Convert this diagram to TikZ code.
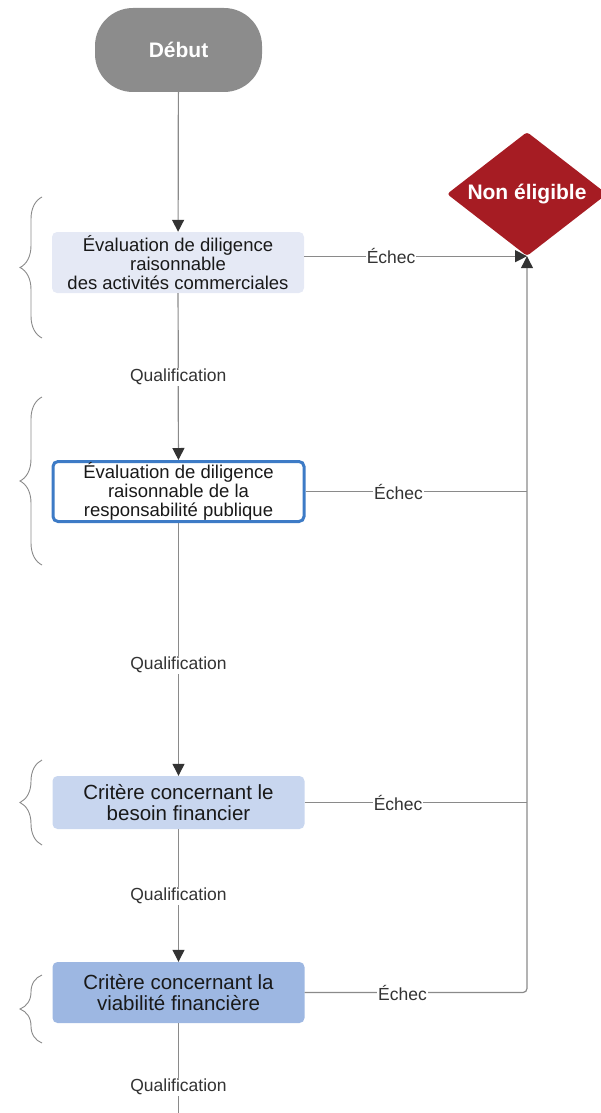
\documentclass[tikz,border=0pt]{standalone}
\usepackage{fontspec}
\setmainfont{Liberation Sans}
\usepackage{xcolor}
\usepackage{tikz}
\usetikzlibrary{shapes.geometric, arrows.meta, decorations.pathreplacing}

\definecolor{startgray}{HTML}{8C8C8C}
\definecolor{failred}{HTML}{A61C23}
\definecolor{evalfill}{HTML}{E5E9F5}
\definecolor{evalborder}{HTML}{3D7BC6}
\definecolor{needfill}{HTML}{C8D6EF}
\definecolor{viabfill}{HTML}{9DB7E2}
\definecolor{linegray}{HTML}{8A8A8A}
\definecolor{tipgray}{HTML}{333333}

\tikzset{
    startnode/.style={
        rectangle, rounded corners=38pt,
        minimum width=167pt, minimum height=84pt,
        fill=startgray, text=white,
        font=\fontsize{21}{22}\selectfont\bfseries
    },
    failnode/.style={
        diamond, aspect=1.29, rounded corners=3pt, inner sep=0pt,
        minimum width=160pt, minimum height=124pt,
        fill=failred, text=white,
        font=\fontsize{21}{22}\selectfont\bfseries
    },
    flowbox/.style={
        rectangle, rounded corners=5pt, align=center, inner sep=0pt,
        minimum width=252pt, text=black!90,
        font=\fontsize{18.5}{19}\selectfont
    },
    flow/.style={
        draw=linegray, line width=1.2pt,
        -{Triangle[length=12pt, width=12pt, color=tipgray]}
    },
    link/.style={draw=linegray, line width=1.2pt},
    edgelbl/.style={
        fill=white, inner sep=1pt, text=black!80,
        font=\fontsize{17.5}{18}\selectfont
    },
    sidebrace/.style={
        draw=linegray, line width=0.9pt,
        decorate, decoration={brace, amplitude=22pt}
    }
}

\begin{document}
\begin{tikzpicture}[x=1pt, y=-1pt]
\useasboundingbox (0,0) rectangle (600,1113);

% steps
\node[startnode] (debut) at (178.5,50) {Début};
\node[flowbox, fill=evalfill, minimum height=61pt] (commerce) at (178,262.5)
    {Évaluation de diligence\\raisonnable\\des activités commerciales};
\node[flowbox, fill=white, draw=evalborder, line width=3pt,
      minimum width=251pt, minimum height=60pt] (publique) at (178.5,491.5)
    {Évaluation de diligence\\raisonnable de la\\responsabilité publique};
\node[flowbox, fill=needfill, minimum height=53pt,
      font=\fontsize{20.5}{21.5}\selectfont] (besoin) at (178.5,802.5)
    {Critère concernant le\\besoin financier};
\node[flowbox, fill=viabfill, minimum height=61pt,
      font=\fontsize{20.5}{21.5}\selectfont] (viabilite) at (178.5,992.5)
    {Critère concernant la\\viabilité financière};
\node[failnode] (noneligible) at (527,194) {Non éligible};
\coordinate (fin) at (178.5,1113);

% qualification path
\draw[flow] (debut) -- (commerce);
\draw[flow] (commerce) -- node[edgelbl] {Qualification} (publique);
\draw[flow] (publique) -- node[edgelbl, pos=.56] {Qualification} (besoin);
\draw[flow] (besoin) -- node[edgelbl] {Qualification} (viabilite);
\draw[link] (viabilite) -- node[edgelbl, pos=.71] {Qualification} (fin);

% failure path
\draw[flow] (commerce.east |- noneligible.south) -- node[edgelbl, pos=.39] {Échec} (noneligible.south);
\draw[link] (publique) -- node[edgelbl, pos=.42] {Échec} (publique -| noneligible.south);
\draw[link] (besoin) -- node[edgelbl, pos=.42] {Échec} (besoin -| noneligible.south);
\draw[flow, rounded corners=4pt] (viabilite) -- node[edgelbl, pos=.44] {Échec}
    (viabilite -| noneligible.south) -- (noneligible.south);

% braces
\draw[sidebrace] (42,338) -- (42,197);
\draw[sidebrace] (42,565) -- (42,397);
\draw[sidebrace] (42,845) -- (42,760);
\draw[sidebrace] (42,1043) -- (42,975);

\end{tikzpicture}
\end{document}
